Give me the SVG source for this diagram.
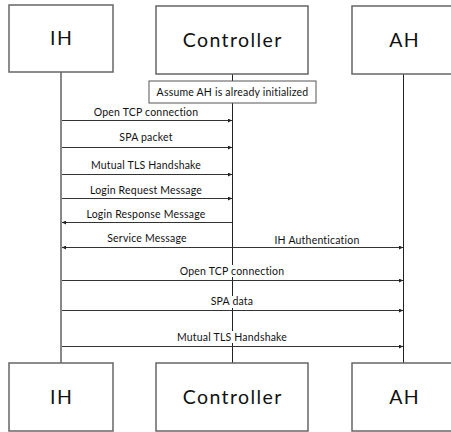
<svg xmlns="http://www.w3.org/2000/svg" width="451" height="432" viewBox="0 0 451 432">
  <style>
    .box { fill: #fff; stroke: #666; stroke-width: 1.5; }
    .title { font-family: Lato, "Noto Sans", sans-serif; font-size: 19.5px; letter-spacing: 1.4px; fill: #111; text-anchor: middle; }
    .lbl { font-family: Lato, "Noto Sans", sans-serif; font-size: 10.5px; letter-spacing: 0.2px; fill: #111; text-anchor: middle; }
    .lbg { fill: #fff; }
    .msg { stroke: #333; stroke-width: 1; fill: none; }
    .life { stroke: #222; stroke-width: 1; }
  </style>
  <defs>
    <marker id="ah" markerWidth="4" markerHeight="4" refX="4" refY="2" orient="auto" markerUnits="userSpaceOnUse">
      <path d="M0,0 L4,2 L0,4 Z" fill="#222"/>
    </marker>
    <marker id="ahs" markerWidth="4" markerHeight="4" refX="0" refY="2" orient="auto" markerUnits="userSpaceOnUse">
      <path d="M4,0 L0,2 L4,4 Z" fill="#222"/>
    </marker>
  </defs>

  <!-- lifelines -->
  <g id="lifelines">
    <line x1="61" y1="72" x2="61" y2="363" stroke="#888" stroke-width="2"/>
    <line class="life" x1="232.5" y1="74" x2="232.5" y2="363"/>
    <line class="life" x1="403.5" y1="74" x2="403.5" y2="363"/>
  </g>

  <!-- participants (top) -->
  <g id="ih-top"><rect class="box" x="9" y="5" width="104" height="67"/><text class="title" x="61.7" y="45">IH</text></g>
  <g id="controller-top"><rect class="box" x="156" y="6" width="152" height="68"/><text class="title" x="232.7" y="47">Controller</text></g>
  <g id="ah-top"><rect class="box" x="352" y="6" width="104" height="68"/><text class="title" x="404.7" y="47">AH</text></g>

  <!-- note -->
  <g id="note">
    <rect x="149" y="81" width="167" height="22" fill="#fff" stroke="#555" stroke-width="1"/>
    <text class="lbl" x="232.5" y="95.5">Assume AH is already initialized</text>
  </g>

  <!-- messages -->
  <g id="connectors">
    <line class="msg" x1="62" y1="120.5" x2="232" y2="120.5" marker-end="url(#ah)"/>
    <text class="lbl" x="146" y="116">Open TCP connection</text>

    <line class="msg" x1="62" y1="147.5" x2="232" y2="147.5" marker-end="url(#ah)"/>
    <text class="lbl" x="146" y="141">SPA packet</text>

    <line class="msg" x1="62" y1="174.5" x2="232" y2="174.5" marker-end="url(#ah)"/>
    <text class="lbl" x="146" y="169">Mutual TLS Handshake</text>

    <line class="msg" x1="62" y1="198.5" x2="232" y2="198.5" marker-end="url(#ah)"/>
    <text class="lbl" x="146" y="194">Login Request Message</text>

    <line class="msg" x1="232" y1="222.5" x2="62" y2="222.5" marker-end="url(#ah)"/>
    <text class="lbl" x="146" y="218">Login Response Message</text>

    <line class="msg" x1="62" y1="247.5" x2="403" y2="247.5" marker-start="url(#ahs)" marker-end="url(#ah)"/>
    <text class="lbl" x="147" y="242">Service Message</text>
    <text class="lbl" x="317" y="244">IH Authentication</text>

    <line class="msg" x1="62" y1="280.5" x2="403" y2="280.5" marker-end="url(#ah)"/>
    <rect class="lbg" x="178" y="265" width="108" height="12"/>
    <text class="lbl" x="232" y="274.5">Open TCP connection</text>

    <line class="msg" x1="62" y1="310.5" x2="403" y2="310.5" marker-end="url(#ah)"/>
    <rect class="lbg" x="209" y="296" width="47" height="12"/>
    <text class="lbl" x="232" y="305">SPA data</text>

    <line class="msg" x1="62" y1="346.5" x2="403" y2="346.5" marker-end="url(#ah)"/>
    <rect class="lbg" x="175" y="331" width="115" height="12"/>
    <text class="lbl" x="232" y="340.5">Mutual TLS Handshake</text>
  </g>

  <!-- participants (bottom) -->
  <g id="ih-bottom"><rect class="box" x="9" y="363" width="104" height="68"/><text class="title" x="61.7" y="404">IH</text></g>
  <g id="controller-bottom"><rect class="box" x="156" y="363" width="152" height="68"/><text class="title" x="232.7" y="404">Controller</text></g>
  <g id="ah-bottom"><rect class="box" x="352" y="363" width="104" height="68"/><text class="title" x="404.7" y="404">AH</text></g>
</svg>
